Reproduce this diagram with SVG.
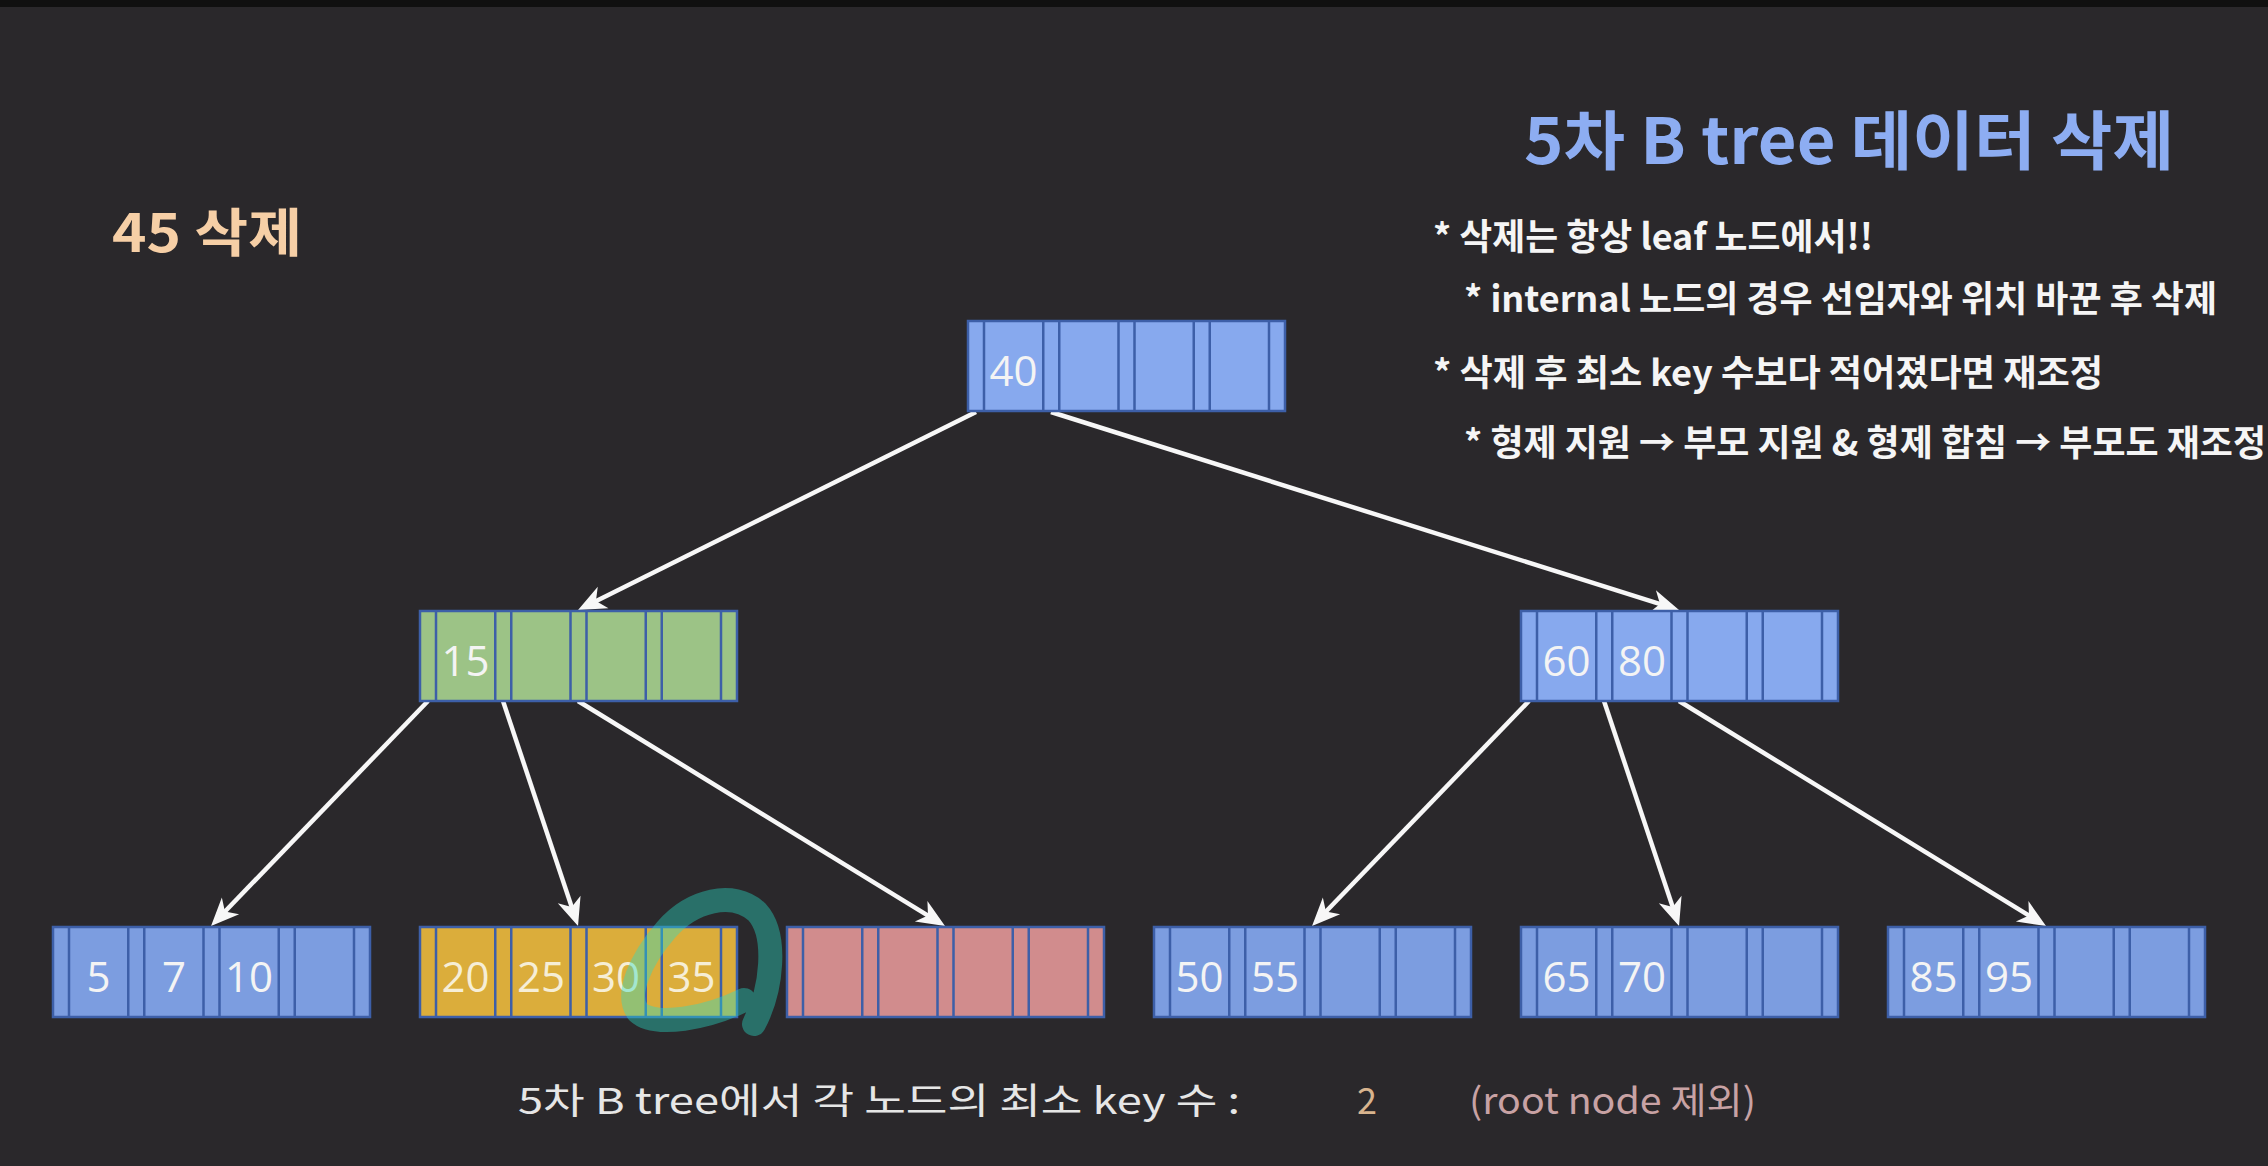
<svg xmlns="http://www.w3.org/2000/svg" width="2268" height="1166" viewBox="0 0 2268 1166">
<defs>
<style>
.box { stroke:#3d5fa8; stroke-width:2.5 }
.sep { stroke:#3d5fa8; stroke-width:2.5; fill:none }
.bi { fill:#87a9ee }
.bl { fill:#7c9de0 }
.gr { fill:#9cc386 }
.ye { fill:#dbad3b }
.pk { fill:#d18c8d }
.key { font-family:"Open Sans","Noto Sans",sans-serif; font-size:42px; fill:#f4f4f4; text-anchor:middle }
.cream { fill:#f6eed6 }
.edge { stroke:#f7f7f7; stroke-width:4.5; fill:none; marker-end:url(#ah) }
.ko { font-family:"Noto Sans CJK KR","Noto Sans",sans-serif }
.bul { font-size:36px; fill:#f5f5f5; font-weight:bold }
.bot { font-size:36px }
</style>
<marker id="ah" viewBox="-22 -14 32 28" refX="0" refY="0" markerWidth="32" markerHeight="28" markerUnits="userSpaceOnUse" orient="auto">
<path d="M8,0 L-20,-12 L-12,0 L-20,12 Z" fill="#f7f7f7"/>
</marker>
<path id="seps" class="sep" d="M16,0V90M75.25,0V90M91.25,0V90M150.5,0V90M166.5,0V90M225.75,0V90M241.75,0V90M301,0V90"/>
</defs>
<rect x="0" y="0" width="2268" height="1166" fill="#2a282b"/>
<rect x="0" y="0" width="2268" height="7" fill="#101010"/>

<g id="connectors">
<line class="edge" x1="976" y1="412" x2="585.2" y2="606.4"/>
<line class="edge" x1="1051" y1="412" x2="1671.4" y2="607.6"/>
<line class="edge" x1="428" y1="701" x2="216.6" y2="920.2"/>
<line class="edge" x1="503" y1="701" x2="575.5" y2="918.4"/>
<line class="edge" x1="578" y1="701" x2="938.2" y2="921.8"/>
<line class="edge" x1="1529" y1="701" x2="1317.6" y2="920.2"/>
<line class="edge" x1="1604" y1="701" x2="1676.5" y2="918.4"/>
<line class="edge" x1="1679" y1="701" x2="2039.2" y2="921.8"/>
</g>

<g id="node-root">
<rect class="box bi" x="968" y="321" width="317" height="90"/>
<use href="#seps" x="968" y="321"/>
<text class="key" x="1013.6" y="386">40</text>
</g>
<g id="node-15">
<rect class="box gr" x="420" y="611" width="317" height="90"/>
<use href="#seps" x="420" y="611"/>
<text class="key" x="465.6" y="676">15</text>
</g>
<g id="node-60-80">
<rect class="box bi" x="1521" y="611" width="317" height="90"/>
<use href="#seps" x="1521" y="611"/>
<text class="key" x="1566.6" y="676">60</text>
<text class="key" x="1641.9" y="676">80</text>
</g>
<g id="leaf-5-7-10">
<rect class="box bl" x="53" y="927" width="317" height="90"/>
<use href="#seps" x="53" y="927"/>
<text class="key" x="98.6" y="992">5</text>
<text class="key" x="173.9" y="992">7</text>
<text class="key" x="249.1" y="992">10</text>
</g>
<g id="leaf-20-35">
<rect class="box ye" x="420" y="927" width="317" height="90"/>
<use href="#seps" x="420" y="927"/>
<text class="key cream" x="465.6" y="992">20</text>
<text class="key cream" x="540.9" y="992">25</text>
<text class="key cream" x="616.1" y="992">30</text>
<text class="key cream" x="691.4" y="992">35</text>
</g>
<g id="leaf-empty">
<rect class="box pk" x="787" y="927" width="317" height="90"/>
<use href="#seps" x="787" y="927"/>
</g>
<g id="leaf-50-55">
<rect class="box bl" x="1154" y="927" width="317" height="90"/>
<use href="#seps" x="1154" y="927"/>
<text class="key" x="1199.6" y="992">50</text>
<text class="key" x="1274.9" y="992">55</text>
</g>
<g id="leaf-65-70">
<rect class="box bl" x="1521" y="927" width="317" height="90"/>
<use href="#seps" x="1521" y="927"/>
<text class="key" x="1566.6" y="992">65</text>
<text class="key" x="1641.9" y="992">70</text>
</g>
<g id="leaf-85-95">
<rect class="box bl" x="1888" y="927" width="317" height="90"/>
<use href="#seps" x="1888" y="927"/>
<text class="key" x="1933.6" y="992">85</text>
<text class="key" x="2008.9" y="992">95</text>
</g>

<path id="highlight" d="M754,1024 C772,990 778,935 757,912 C733,890 692,900 666,930 C640,960 625,995 638,1012 C655,1028 708,1018 744,1000" fill="none" stroke="rgb(40,220,200)" stroke-opacity="0.4" stroke-width="24" stroke-linecap="round" stroke-linejoin="round"/>

<text class="ko" x="112" y="252" font-size="52" font-weight="bold" fill="#f6cfa6" textLength="190" lengthAdjust="spacingAndGlyphs">45 삭제</text>
<text class="ko" x="1524" y="164" font-size="64" font-weight="bold" fill="#8dadf2" textLength="650" lengthAdjust="spacingAndGlyphs">5차 B tree 데이터 삭제</text>

<g id="notes" class="ko bul">
<text x="1433" y="250" textLength="440" lengthAdjust="spacingAndGlyphs">* 삭제는 항상 leaf 노드에서!!</text>
<text x="1464" y="312" textLength="753" lengthAdjust="spacingAndGlyphs">* internal 노드의 경우 선임자와 위치 바꾼 후 삭제</text>
<text x="1433" y="386" textLength="670" lengthAdjust="spacingAndGlyphs">* 삭제 후 최소 key 수보다 적어졌다면 재조정</text>
<text x="1464" y="456" textLength="802" lengthAdjust="spacingAndGlyphs">* 형제 지원 → 부모 지원 &amp; 형제 합침 → 부모도 재조정</text>
</g>

<g id="footer" class="ko bot">
<text x="518" y="1114" fill="#e6e6e6" textLength="722" lengthAdjust="spacingAndGlyphs">5차 B tree에서 각 노드의 최소 key 수 :</text>
<text x="1357" y="1114" fill="#d8b48e">2</text>
<text x="1469" y="1114" fill="#c8a2a4" textLength="287" lengthAdjust="spacingAndGlyphs">(root node 제외)</text>
</g>
</svg>
